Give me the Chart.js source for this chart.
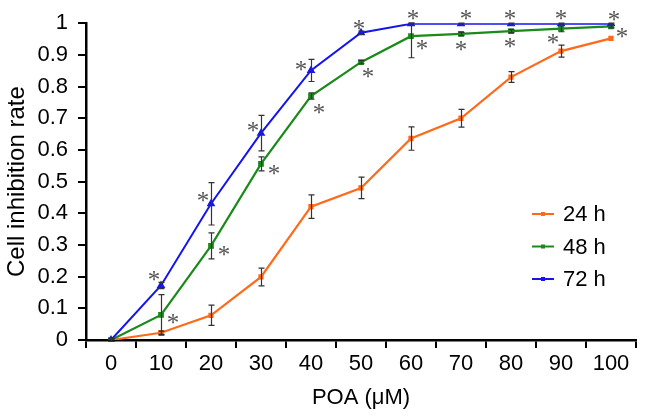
<!DOCTYPE html>
<html lang="en">
<head>
<meta charset="UTF-8">
<title>Cell inhibition rate</title>
<script src="https://cdn.jsdelivr.net/npm/chart.js"></script>
<style>
    html, body { margin: 0; padding: 0; background: #fff; }
    #wrap { width: 646px; height: 417px; position: relative; }
</style>
</head>
<body>
<div id="wrap"><canvas id="chart"></canvas></div>
<script>
// data
const doses = ['0', '10', '20', '30', '40', '50', '60', '70', '80', '90', '100'];
const rate24 = [0, 0.023, 0.078, 0.199, 0.421, 0.48, 0.636, 0.70, 0.83, 0.912, 0.952];
const rate48 = [0, 0.079, 0.297, 0.556, 0.77, 0.877, 0.959, 0.966, 0.975, 0.983, 0.99];
const rate72 = [0, 0.172, 0.43, 0.653, 0.851, 0.97, 0.998, 0.998, 0.998, 0.998, 0.998];
const err24 = [0.004, 0.005, 0.032, 0.028, 0.037, 0.034, 0.037, 0.028, 0.017, 0.019, 0];
const err48 = [0.004, 0.064, 0.041, 0.022, 0.01, 0.005, 0.068, 0.005, 0.005, 0.01, 0.005];
const err72 = [0.004, 0.01, 0.067, 0.056, 0.035, 0.005, 0.005, 0.005, 0.005, 0.005, 0.005];
// significance marks (true = asterisk shown)
const sig48 = [false, true, true, true, true, true, true, true, true, true, true];
const sig72 = [false, true, true, true, true, true, true, true, true, true, true];

// where each asterisk sits relative to its point (pixels)
const starOff48 = [[0, 0], [12, 4], [13, 5], [13, 6], [8, 13], [7, 11], [11, 9], [0, 12], [-1, 12], [-8, 10], [11, 7]];
const starOff72 = [[0, 0], [-7, -10], [-8, -7], [-8, -6], [-10, -4], [-2, -8], [2, -9], [5, -9], [-1, -9], [0, -9], [3, -8]];

const FONT = "'Liberation Sans', Arial, sans-serif";

const errorBars = {
    id: 'errorBars',
    afterDatasetsDraw(chart) {
        const ctx = chart.ctx;
        const y = chart.scales.y;
        ctx.save();
        ctx.strokeStyle = '#333';
        ctx.lineWidth = 1.2;
        chart.data.datasets.forEach((ds, i) => {
            const meta = chart.getDatasetMeta(i);
            meta.data.forEach((pt, j) => {
                const e = ds.errors[j];
                if (!e) return;
                const v = ds.data[j];
                const top = y.getPixelForValue(Math.min(v + e, 1));
                const bot = y.getPixelForValue(v - e);
                const x = Math.round(pt.x) + 0.5;
                ctx.beginPath();
                ctx.moveTo(x, top); ctx.lineTo(x, bot);
                ctx.moveTo(x - 3, top); ctx.lineTo(x + 3, top);
                ctx.moveTo(x - 3, bot); ctx.lineTo(x + 3, bot);
                ctx.stroke();
            });
        });
        // asterisks
        ctx.fillStyle = '#555';
        ctx.font = "25px 'Liberation Serif', 'Times New Roman', serif";
        ctx.textAlign = 'center';
        ctx.textBaseline = 'alphabetic';
        const m = ctx.measureText('*');
        const shift = (m.actualBoundingBoxAscent - m.actualBoundingBoxDescent) / 2;
        chart.data.datasets.forEach((ds, i) => {
            if (!ds.sig) return;
            const meta = chart.getDatasetMeta(i);
            meta.data.forEach((pt, j) => {
                if (!ds.sig[j]) return;
                const o = ds.starOff[j];
                ctx.fillText('*', pt.x + o[0], pt.y + o[1] + shift);
            });
        });
        ctx.restore();
    }
};

const innerLegend = {
    id: 'innerLegend',
    afterDraw(chart) {
        const ctx = chart.ctx;
        const rows = [214, 246.5, 279];
        ctx.save();
        ctx.font = '22px ' + FONT;
        ctx.textBaseline = 'middle';
        ctx.textAlign = 'left';
        chart.data.datasets.forEach((ds, i) => {
            const yy = rows[i];
            ctx.strokeStyle = ds.borderColor;
            ctx.lineWidth = 2;
            ctx.beginPath();
            ctx.moveTo(532, yy); ctx.lineTo(554, yy);
            ctx.stroke();
            ctx.fillStyle = ds.borderColor;
            ctx.fillRect(541, yy - 2, 4, 4);
            ctx.fillStyle = '#000';
            ctx.fillText(ds.label, 563, yy + 1);
        });
        ctx.restore();
    }
};

new Chart(document.getElementById('chart'), {
    type: 'line',
    data: {
        labels: doses,
        datasets: [
            {
                label: '24 h', data: rate24, errors: err24,
                borderColor: '#ff6a1a', backgroundColor: '#ff6a1a',
                borderWidth: 2.2, pointStyle: 'rect', pointRadius: 2.2, order: 3
            },
            {
                label: '48 h', data: rate48, errors: err48, sig: sig48, starOff: starOff48,
                borderColor: '#1a8a1a', backgroundColor: '#1a8a1a',
                borderWidth: 2.2, pointStyle: 'rect', pointRadius: 2.5, order: 2
            },
            {
                label: '72 h', data: rate72, errors: err72, sig: sig72, starOff: starOff72,
                borderColor: '#1414ee', backgroundColor: '#1414ee',
                borderWidth: 2, pointStyle: 'triangle', pointRadius: 3, order: 1
            }
        ]
    },
    options: {
        responsive: true,
        maintainAspectRatio: false,
        animation: false,
        layout: { padding: { left: 0, right: 10, top: 14, bottom: 0 } },
        plugins: { legend: { display: false }, tooltip: { enabled: false } },
        elements: { line: { tension: 0 } },
        scales: {
            x: {
                type: 'category',
                offset: true,
                grid: { offset: true, drawOnChartArea: false, drawTicks: true, tickLength: 8, color: '#000', lineWidth: 2 },
                border: { color: '#000', width: 2.5 },
                ticks: { color: '#000', font: { size: 22, family: FONT }, padding: 3, maxRotation: 0 },
                title: { display: true, text: 'POA (μM)', color: '#000', font: { size: 22, family: FONT }, padding: { top: 4, bottom: 6 } },
                afterFit(s) { s.height = 77; }
            },
            y: {
                min: 0, max: 1,
                grid: { drawOnChartArea: false, drawTicks: true, tickLength: 8, color: '#000', lineWidth: 2 },
                border: { color: '#000', width: 2.5 },
                ticks: {
                    stepSize: 0.1, color: '#000', font: { size: 22, family: FONT }, padding: 10,
                    callback: v => Math.round(v * 10) / 10
                },
                title: { display: true, text: 'Cell inhibition rate', color: '#000', font: { size: 24, family: FONT }, padding: { top: 3, bottom: 4 } },
                afterFit(s) { s.width = 86; }
            }
        }
    },
    plugins: [errorBars, innerLegend]
});
</script>
</body>
</html>
